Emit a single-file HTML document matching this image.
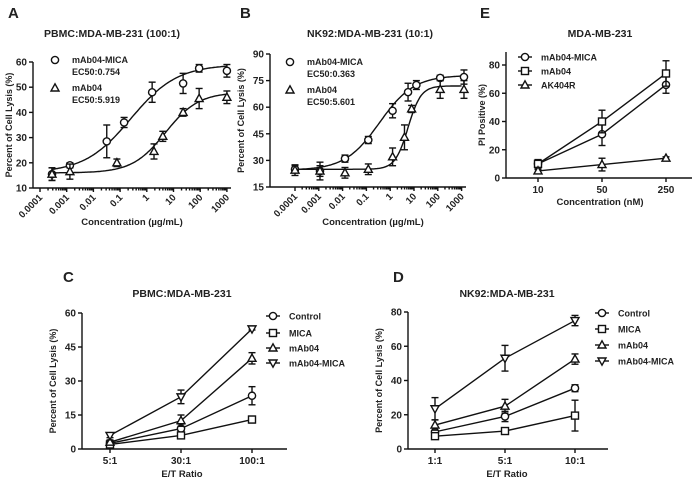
<!DOCTYPE html>
<html><head><meta charset="utf-8"><style>
html,body{margin:0;padding:0;background:#fff;}
svg{display:block;font-family:"Liberation Sans",Arial,sans-serif;}
text{font-weight:bold;fill:#222;}
</style></head><body>
<svg id="chart" width="700" height="482" viewBox="0 0 700 482" xmlns="http://www.w3.org/2000/svg"></svg>
<script>
// ---- Panel A data ----
const aMicaX = [-3.55, -2.88, -1.5, -0.85, 0.2, 1.36, 1.96, 3.0];
const aMicaY = [15.5, 19, 28.5, 36, 48, 51.5, 57.5, 56.5];
const aMicaE = [2.5, 1, 6.5, 2, 4, 4, 1.5, 2.5];
const aAbX = [-3.55, -2.88, -1.12, 0.27, 0.6, 1.36, 1.96, 3.0];
const aAbY = [15.5, 16.5, 20, 24.5, 30.5, 40, 45.5, 46];
const aAbE = [2.5, 3, 1.5, 3, 2, 1.5, 4, 2.5];
const aFitMica = [16, 59, -0.6, 0.5];
const aFitAb = [16, 48, 0.7, 0.7];
// ---- Panel B data ----
const bMicaX = [-4, -2.95, -1.9, -0.92, 0.1, 0.75, 1.1, 2.1, 3.1];
const bMicaY = [25, 24, 31, 41.5, 58, 68.5, 72.5, 76.5, 77];
const bMicaE = [2, 3, 2, 2, 4, 5, 2.5, 1.5, 4];
const bAbX = [-4, -2.95, -1.9, -0.92, 0.1, 0.6, 0.9, 2.1, 3.1];
const bAbY = [24.5, 24, 23, 25, 32, 43, 59, 70, 70];
const bAbE = [3, 5, 3, 3, 5, 7, 2, 5, 5];
const bFitMica = [24.5, 78, -0.45, 0.6];
const bFitAb = [25, 72, 0.75, 1.6];
// ---- Panel E data ----
const eCats = ["10", "50", "250"];
const eMica = [10, 31, 66];
const eMicaE = [3, 8, 6];
const eAb = [10, 40, 74];
const eAbE = [3, 8, 9];
const eAk = [5, 9.5, 14];
const eAkE = [1, 4.5, 1];
// ---- Panel C data ----
const cCats = ["5:1", "30:1", "100:1"];
const cControl = [2.5, 9, 23.5];
const cControlE = [1, 2, 4];
const cMica = [2, 6, 13];
const cMicaE = [0.5, 1, 1.5];
const cAb = [3, 12.5, 40];
const cAbE = [1, 2.5, 2.5];
const cAbMica = [6, 23, 53];
const cAbMicaE = [1, 3, 0.5];
// ---- Panel D data ----
const dCats = ["1:1", "5:1", "10:1"];
const dControl = [10, 19, 35.5];
const dControlE = [1, 3, 2];
const dMica = [7.5, 10.5, 19.5];
const dMicaE = [0.5, 1, 9];
const dAb = [14, 25, 52.5];
const dAbE = [3, 4, 3];
const dAbMica = [23.5, 53, 75];
const dAbMicaE = [6.5, 7.5, 3];
const logTicks = ["0.0001", "0.001", "0.01", "0.1", "1", "10", "100", "1000"];

const svg = document.getElementById('chart');
const NS = 'http://www.w3.org/2000/svg';
function mk(tag, attrs, parent) {
  const e = document.createElementNS(NS, tag);
  for (const k in attrs) e.setAttribute(k, attrs[k]);
  (parent || svg).appendChild(e);
  return e;
}
function line(x1, y1, x2, y2, name, g) {
  const e = mk('line', {x1, y1, x2, y2, stroke: '#111', 'stroke-width': 1.4}, g);
  
  
  return e;
}
function txt(x, y, s, size, anchor, name, g, rot) {
  const e = mk('text', {x, y, 'font-size': size, 'text-anchor': anchor || 'middle'}, g);
  if (rot) e.setAttribute('transform', 'rotate(' + rot + ' ' + x + ' ' + y + ')');
  e.textContent = s;
  
  
  return e;
}
function marker(type, x, y, name, g) {
  let e;
  if (type === 'circle') e = mk('circle', {cx: x, cy: y, r: 3.6}, g);
  else if (type === 'square') e = mk('rect', {x: x - 3.5, y: y - 3.5, width: 7, height: 7}, g);
  else if (type === 'up') e = mk('polygon', {points: `${x},${y - 4.2} ${x - 4},${y + 3} ${x + 4},${y + 3}`}, g);
  else e = mk('polygon', {points: `${x},${y + 4.2} ${x - 4},${y - 3} ${x + 4},${y - 3}`}, g);
  e.setAttribute('fill', '#fff');
  e.setAttribute('stroke', '#111');
  e.setAttribute('stroke-width', 1.4);
  
  
}
function errbar(x, y1, y2, name, g) {
  const gg = mk('g', {}, g);
  
  
  line(x, y1, x, y2, 'error-stem', gg);
  line(x - 3.5, y1, x + 3.5, y1, 'error-cap', gg);
  line(x - 3.5, y2, x + 3.5, y2, 'error-cap', gg);
}
function yAxis(g, ax, yScale, ticks, top, bottom, title, titleX) {
  line(ax, top, ax, bottom, 'y-axis', g);
  ticks.forEach(t => {
    const y = yScale(t);
    line(ax - 4, y, ax, y, 'y-tick', g);
    txt(ax - 6, y + 3.5, String(t), 10, 'end', 'y-tick-label', g);
  });
  txt(titleX, (top + bottom) / 2, title, 9, 'middle', 'y-axis-title', g, -90);
}
function fourPL(p, lx) { return p[0] + (p[1] - p[0]) / (1 + Math.pow(10, (p[2] - lx) * p[3])); }

// ---------- Log panels A, B ----------
function logPanel(cfg) {
  const g = mk('g', {});
  
  
  const xs = v => cfg.x0 + (v + 4) * cfg.dx;
  const ys = v => cfg.yb - (v - cfg.ymin) * (cfg.yb - cfg.yt) / (cfg.ymax - cfg.ymin);
  txt(cfg.lx, 18, cfg.letter, 15, 'start', 'panel-label', g);
  txt(cfg.tx, 37, cfg.title, 10.5, 'middle', 'chart-title', g);
  yAxis(g, cfg.ax, ys, cfg.yticks, cfg.yt, cfg.yb, 'Percent of Cell Lysis (%)', cfg.ytx);
  line(cfg.ax, cfg.yb, cfg.xend, cfg.yb, 'x-axis', g);
  logTicks.forEach((s, i) => {
    const x = xs(i - 4);
    line(x, cfg.yb, x, cfg.yb + 4, 'x-tick', g);
    txt(x + 3, cfg.yb + 10, s, 9.5, 'end', 'x-tick-label', g, -45);
    if (i < 7) for (let m = 2; m < 10; m++) line(xs(i - 4 + Math.log10(m)), cfg.yb, xs(i - 4 + Math.log10(m)), cfg.yb + 2.5, 'x-minor-tick', g);
  });
  txt(cfg.xtx, 225, 'Concentration (µg/mL)', 9.5, 'middle', 'x-axis-title', g);
  cfg.series.forEach(s => {
    let d = '';
    for (let lx = s.x[0]; lx <= 3.0001; lx += 0.05) d += (d ? 'L' : 'M') + xs(lx).toFixed(1) + ',' + ys(fourPL(s.fit, lx)).toFixed(1);
    const p = mk('path', {d, fill: 'none', stroke: '#111', 'stroke-width': 1.4}, g);
    
    
    s.x.forEach((v, i) => {
      errbar(xs(v), ys(s.y[i] - s.e[i]), ys(s.y[i] + s.e[i]), s.name + '-error-bar', g);
      marker(s.m, xs(v), ys(s.y[i]), s.name + '-point', g);
    });
  });
  cfg.legend.forEach((l, i) => {
    const y = cfg.legY + i * 28;
    marker(l.m, cfg.legX, y, 'legend-marker', g);
    txt(cfg.legX + 17, y + 3, l.a, 9, 'start', 'legend-label', g);
    txt(cfg.legX + 17, y + 15, l.b, 9, 'start', 'legend-ec50', g);
  });
}
logPanel({name: 'panel-a', letter: 'A', lx: 8, title: 'PBMC:MDA-MB-231 (100:1)', tx: 112,
  ax: 33, x0: 40, dx: 26.7, xend: 231, yt: 62, yb: 188, ymin: 10, ymax: 60, yticks: [10, 20, 30, 40, 50, 60], ytx: 12, xtx: 132,
  legX: 55, legY: 60,
  legend: [{m: 'circle', a: 'mAb04-MICA', b: 'EC50:0.754'}, {m: 'up', a: 'mAb04', b: 'EC50:5.919'}],
  series: [{name: 'mab04-mica', m: 'circle', x: aMicaX, y: aMicaY, e: aMicaE, fit: aFitMica},
           {name: 'mab04', m: 'up', x: aAbX, y: aAbY, e: aAbE, fit: aFitAb}]});
logPanel({name: 'panel-b', letter: 'B', lx: 240, title: 'NK92:MDA-MB-231 (10:1)', tx: 370,
  ax: 270, x0: 295, dx: 23.8, xend: 466, yt: 54, yb: 187, ymin: 15, ymax: 90, yticks: [15, 30, 45, 60, 75, 90], ytx: 244, xtx: 373,
  legX: 290, legY: 62,
  legend: [{m: 'circle', a: 'mAb04-MICA', b: 'EC50:0.363'}, {m: 'up', a: 'mAb04', b: 'EC50:5.601'}],
  series: [{name: 'mab04-mica', m: 'circle', x: bMicaX, y: bMicaY, e: bMicaE, fit: bFitMica},
           {name: 'mab04', m: 'up', x: bAbX, y: bAbY, e: bAbE, fit: bFitAb}]});

// ---------- Category panels C, D, E ----------
function catPanel(cfg) {
  const g = mk('g', {});
  
  
  const ys = v => cfg.yb - v * (cfg.yb - cfg.yt) / cfg.ymax;
  const xs = i => cfg.cx[0] + i * (cfg.cx[1] - cfg.cx[0]);
  txt(cfg.lx, cfg.ly, cfg.letter, 15, 'start', 'panel-label', g);
  txt(cfg.tx, cfg.ty, cfg.title, 10.5, 'middle', 'chart-title', g);
  yAxis(g, cfg.ax, ys, cfg.yticks, cfg.ytop, cfg.yb, cfg.ytitle, cfg.ytx);
  line(cfg.ax, cfg.yb, cfg.xend, cfg.yb, 'x-axis', g);
  cfg.cats.forEach((c, i) => {
    line(xs(i), cfg.yb, xs(i), cfg.yb + 4, 'x-tick', g);
    txt(xs(i), cfg.yb + 15, c, 10, 'middle', 'x-tick-label', g);
  });
  txt(cfg.tx, cfg.xty, cfg.xtitle, 9.5, 'middle', 'x-axis-title', g);
  cfg.series.forEach(s => {
    const d = s.y.map((v, i) => (i ? 'L' : 'M') + xs(i) + ',' + ys(v)).join('');
    const p = mk('path', {d, fill: 'none', stroke: '#111', 'stroke-width': 1.4}, g);
    
    
    s.y.forEach((v, i) => {
      errbar(xs(i), ys(Math.max(0, v - s.e[i])), ys(v + s.e[i]), s.name + '-error-bar', g);
      marker(s.m, xs(i), ys(v), s.name + '-point', g);
    });
  });
  cfg.series.forEach((s, i) => {
    const y = cfg.legY[i];
    line(cfg.legX - 7, y, cfg.legX + 7, y, 'legend-line', g);
    marker(s.m, cfg.legX, y, 'legend-marker', g);
    txt(cfg.legX + 16, y + 3.5, s.label, 9, 'start', 'legend-label', g);
  });
}
catPanel({name: 'panel-e', letter: 'E', lx: 480, ly: 18, title: 'MDA-MB-231', tx: 600, ty: 37,
  ax: 506, yt: 65, ymax: 80, ytop: 52, yb: 178, yticks: [0, 20, 40, 60, 80], ytitle: 'PI Positive (%)', ytx: 485,
  xend: 692, cats: eCats, cx: [538, 602], xtitle: 'Concentration (nM)', xty: 205,
  legX: 525, legY: [57, 71, 85],
  series: [{name: 'mab04-mica', label: 'mAb04-MICA', m: 'circle', y: eMica, e: eMicaE},
           {name: 'mab04', label: 'mAb04', m: 'square', y: eAb, e: eAbE},
           {name: 'ak404r', label: 'AK404R', m: 'up', y: eAk, e: eAkE}]});
catPanel({name: 'panel-c', letter: 'C', lx: 63, ly: 282, title: 'PBMC:MDA-MB-231', tx: 182, ty: 297,
  ax: 82, yt: 313, ymax: 60, ytop: 313, yb: 449, yticks: [0, 15, 30, 45, 60], ytitle: 'Percent of Cell Lysis (%)', ytx: 56,
  xend: 287, cats: cCats, cx: [110, 181], xtitle: 'E/T Ratio', xty: 477,
  legX: 273, legY: [316, 333, 348, 363],
  series: [{name: 'control', label: 'Control', m: 'circle', y: cControl, e: cControlE},
           {name: 'mica', label: 'MICA', m: 'square', y: cMica, e: cMicaE},
           {name: 'mab04', label: 'mAb04', m: 'up', y: cAb, e: cAbE},
           {name: 'mab04-mica', label: 'mAb04-MICA', m: 'down', y: cAbMica, e: cAbMicaE}]});
catPanel({name: 'panel-d', letter: 'D', lx: 393, ly: 282, title: 'NK92:MDA-MB-231', tx: 507, ty: 297,
  ax: 408, yt: 312, ymax: 80, ytop: 312, yb: 449, yticks: [0, 20, 40, 60, 80], ytitle: 'Percent of Cell Lysis (%)', ytx: 382,
  xend: 608, cats: dCats, cx: [435, 505], xtitle: 'E/T Ratio', xty: 477,
  legX: 602, legY: [313, 329, 345, 361],
  series: [{name: 'control', label: 'Control', m: 'circle', y: dControl, e: dControlE},
           {name: 'mica', label: 'MICA', m: 'square', y: dMica, e: dMicaE},
           {name: 'mab04', label: 'mAb04', m: 'up', y: dAb, e: dAbE},
           {name: 'mab04-mica', label: 'mAb04-MICA', m: 'down', y: dAbMica, e: dAbMicaE}]});
</script>
</body></html>
